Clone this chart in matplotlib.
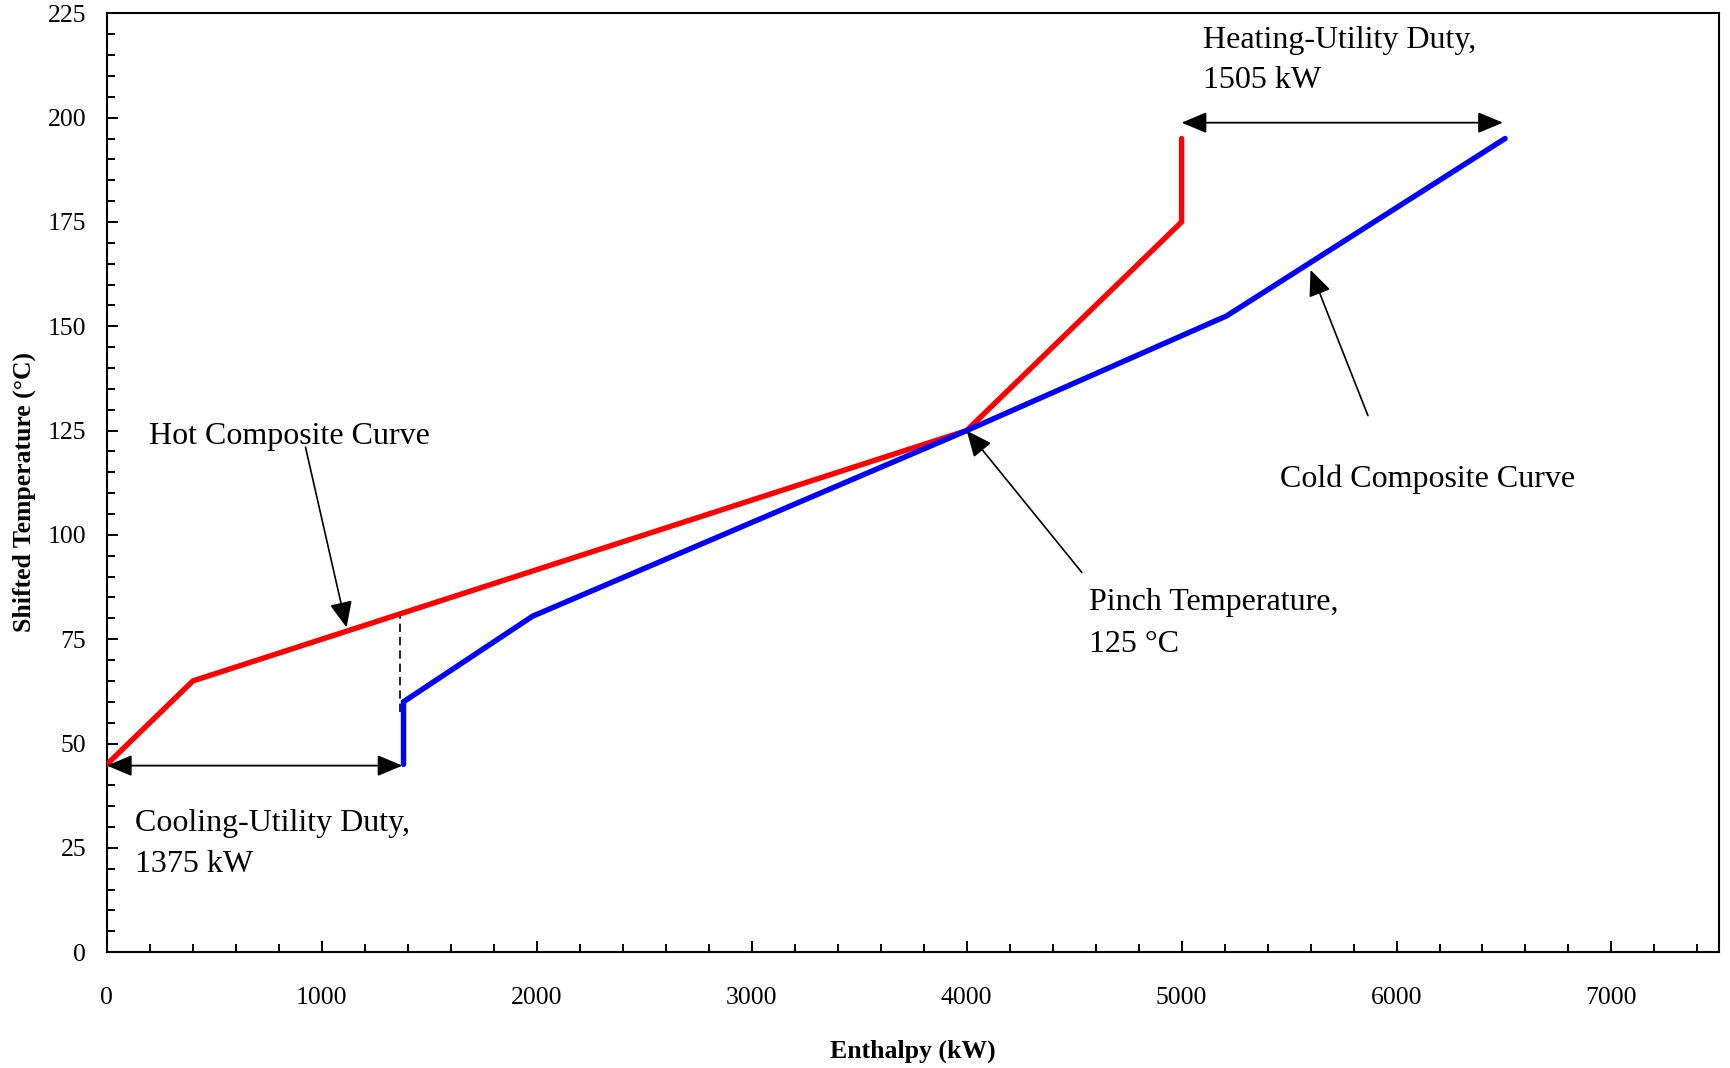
import matplotlib
matplotlib.use("Agg")
import matplotlib.pyplot as plt
from matplotlib.ticker import MultipleLocator

plt.rcParams["font.family"] = ["Liberation Serif", "DejaVu Serif"]

# Hot composite curve (enthalpy kW, shifted temperature °C)
hot_H = [0, 400, 4000, 5000, 5000]
hot_T = [45, 65, 125, 175, 195]

# Cold composite curve
cold_H = [1380, 1380, 1980, 4000, 5210, 6505]
cold_T = [45, 60, 80.5, 125, 152.5, 195]

# Utility duties and pinch
cooling_duty = 1375
heating_duty = 1505
pinch_H, pinch_T = 4000, 125

x_ticks = [0, 1000, 2000, 3000, 4000, 5000, 6000, 7000]
y_ticks = [0, 25, 50, 75, 100, 125, 150, 175, 200, 225]

fig = plt.figure(figsize=(17.30, 10.68), dpi=100)
ax = fig.add_axes([0.0618, 0.1085, 0.9318, 0.879])

ax.plot(hot_H, hot_T, color="#ff0000", lw=3.9, solid_capstyle="round",
        solid_joinstyle="miter", zorder=3)
ax.plot(cold_H, cold_T, color="#0000ff", lw=3.9, solid_capstyle="round",
        solid_joinstyle="miter", zorder=3)

# Dashed guide from the cold curve start up to the hot curve
hot_at_cool = hot_T[1] + (cooling_duty - 10 - hot_H[1]) * (hot_T[2] - hot_T[1]) / (hot_H[2] - hot_H[1])
ax.plot([cooling_duty - 10, cooling_duty - 10], [57.5, hot_at_cool], color="black",
        lw=1.2, linestyle=(0, (5, 3)), zorder=2)

dbl = dict(arrowstyle="<|-|>,head_length=1.55,head_width=0.65", color="black",
           lw=1.3, mutation_scale=10, shrinkA=0, shrinkB=0)
# Cooling-utility duty span
ax.annotate("", xy=(0, 44.7), xytext=(cooling_duty, 44.7), arrowprops=dbl)
# Heating-utility duty span
ax.annotate("", xy=(hot_H[-1], 198.8), xytext=(hot_H[-1] + heating_duty - 10, 198.8),
            arrowprops=dbl)

single = dict(arrowstyle="-|>,head_length=1.6,head_width=0.7", color="black",
              lw=1.2, mutation_scale=10, shrinkA=0, shrinkB=0)
fs = 23
ax.text(195, 121.8, "Hot Composite Curve", fontsize=fs, va="baseline", ha="left")
ax.annotate("", xy=(1115, 77.8), xytext=(924, 121), arrowprops=single)

ax.text(5459, 111.5, "Cold Composite Curve", fontsize=fs, va="baseline", ha="left")
ax.annotate("", xy=(5600, 163.5), xytext=(5867, 128.6), arrowprops=single)

ax.text(4570, 81.9, "Pinch Temperature,", fontsize=fs, va="baseline", ha="left")
ax.text(4570, 72.0, f"{pinch_T} °C", fontsize=fs, va="baseline", ha="left")
ax.annotate("", xy=(pinch_H, pinch_T), xytext=(4536, 91), arrowprops=single)

ax.text(5101, 216.8, "Heating-Utility Duty,", fontsize=fs, va="baseline", ha="left")
ax.text(5101, 207.0, f"{heating_duty} kW", fontsize=fs, va="baseline", ha="left")

ax.text(130, 29.1, "Cooling-Utility Duty,", fontsize=fs, va="baseline", ha="left")
ax.text(130, 19.2, f"{cooling_duty} kW", fontsize=fs, va="baseline", ha="left")

ax.set_xlim(0, 7500)
ax.set_ylim(0, 225)
ax.set_xticks(x_ticks)
ax.set_yticks(y_ticks)
ax.xaxis.set_minor_locator(MultipleLocator(200))
ax.yaxis.set_minor_locator(MultipleLocator(5))
ax.tick_params(which="both", direction="in", width=1.4, colors="black")
ax.tick_params(which="major", length=8)
ax.tick_params(which="minor", length=6)
ax.tick_params(axis="x", which="major", pad=25, labelsize=18.5)
ax.tick_params(axis="y", which="major", pad=15, labelsize=18.5)
for sp in ax.spines.values():
    sp.set_linewidth(1.5)

ax.set_xlabel("Enthalpy (kW)", fontsize=18.5, fontweight="bold", va="center")
ax.xaxis.set_label_coords(0.5, -0.106)
ax.set_ylabel("Shifted Temperature (°C)", fontsize=18.5, fontweight="bold", va="center")
ax.yaxis.set_label_coords(-0.0515, 0.49)

fig.savefig("out.png", dpi=100, facecolor="white")
